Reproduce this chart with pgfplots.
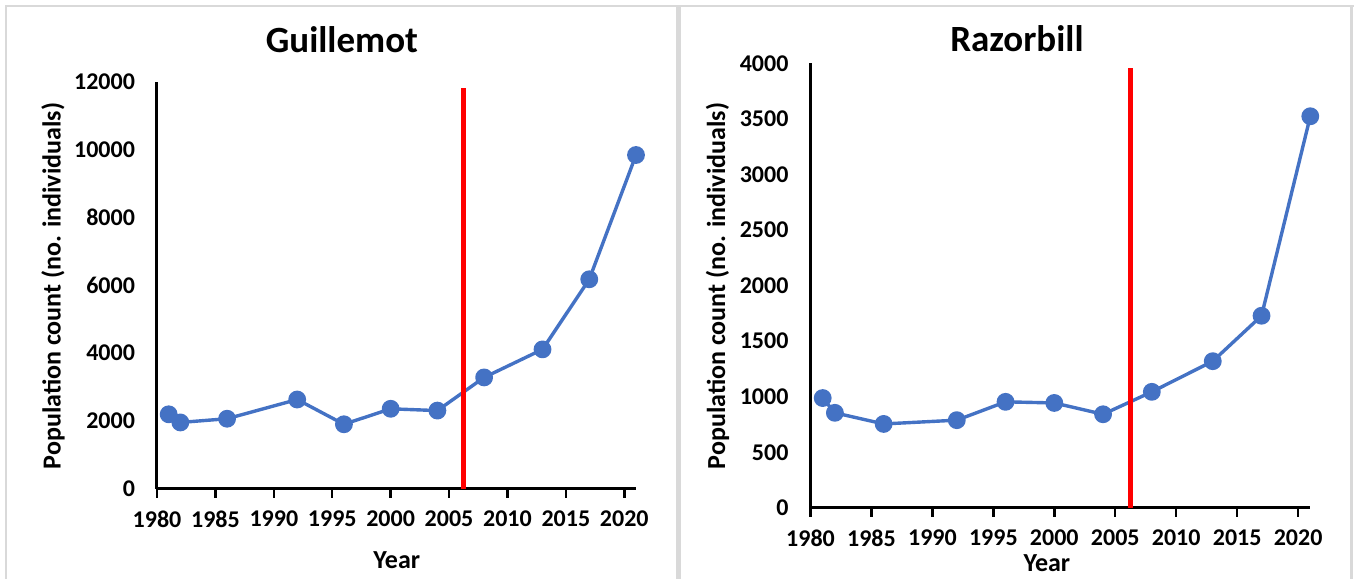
\documentclass[border=0pt]{standalone}
\usepackage{fontspec}
\setmainfont{Carlito}
\usepackage{pgfplots}
\pgfplotsset{compat=1.18}
\definecolor{exblue}{HTML}{4472C4}
\definecolor{framegray}{HTML}{D9D9D9}
\pgfplotsset{mystyle/.style={
  scale only axis,
  anchor=south west,
  axis x line=bottom, axis y line=left,
  axis line style={-, line width=1.5pt, black},
  xmin=1980, xmax=2021, ymin=0,
  xtick={1980,1985,...,2020},
  scaled y ticks=false, scaled x ticks=false,
  tick align=outside,
  major tick length=4.5pt,
  x tick style={line width=1.2pt, black},
  y tick style={draw=none},
  ticklabel style={font=\fontsize{12}{14}\selectfont\bfseries},
  /pgf/number format/assume math mode=true,
  /pgf/number format/set thousands separator={},
  xticklabel style={yshift=-3pt},
  yticklabel style={xshift=-3pt},
  title style={font=\fontsize{18.5}{22}\selectfont\bfseries, anchor=center},
  xlabel style={font=\fontsize{13}{15}\selectfont\bfseries, anchor=center},
  ylabel style={font=\fontsize{13}{15}\selectfont\bfseries, anchor=center},
  clip=false,
}}
\begin{document}
\begin{tikzpicture}
\useasboundingbox (0,0) rectangle (677pt,289.5pt);
% panel frames
\fill[framegray] (2.5pt,0) rectangle (3.5pt,287pt);
\fill[framegray] (2.5pt,286pt) rectangle (677pt,287pt);
\fill[framegray] (338pt,0) rectangle (340.5pt,287pt);
\fill[framegray] (675pt,0) rectangle (676.5pt,287pt);

\begin{axis}[mystyle,
  at={(78.5pt,45.25pt)}, width=239.5pt, height=203.25pt,
  ymax=12000, ytick={0,2000,...,12000},
  title={Guillemot}, title style={at={(axis description cs:0.386,1.0746)}},
  xlabel={Year}, xlabel style={at={(axis description cs:0.5006,-0.1756)}},
  ylabel={Population count (no. individuals)}, ylabel style={at={(axis description cs:-0.217,0.498)}},
]
\addplot[exblue, line width=1.7pt, line join=round, mark=*, mark size=3.6pt, mark options={fill=exblue, draw=exblue}]
coordinates {(1981,2190) (1982,1950) (1986,2060) (1992,2627) (1996,1896) (2000,2353) (2004,2300) (2008,3279) (2013,4107) (2017,6176) (2021,9845)};
\addplot[red, line width=2.7pt] coordinates {(2006.25,0) (2006.25,11820)};
\end{axis}

\begin{axis}[mystyle,
  at={(405.25pt,35.6pt)}, width=249.9pt, height=222.15pt,
  ymax=4000, ytick={0,500,...,4000},
  title={Razorbill}, title style={at={(axis description cs:0.413,1.030)}},
  xlabel={Year}, xlabel style={at={(axis description cs:0.473,-0.124)}},
  ylabel={Population count (no. individuals)}, ylabel style={at={(axis description cs:-0.186,0.499)}},
]
\addplot[exblue, line width=1.7pt, line join=round, mark=*, mark size=3.6pt, mark options={fill=exblue, draw=exblue}]
coordinates {(1981,988) (1982,855) (1986,755) (1992,789) (1996,954) (2000,944) (2004,842) (2008,1044) (2013,1320) (2017,1729) (2021,3525)};
\addplot[red, line width=2.7pt] coordinates {(2006.25,0) (2006.25,3959)};
\end{axis}
\end{tikzpicture}
\end{document}
